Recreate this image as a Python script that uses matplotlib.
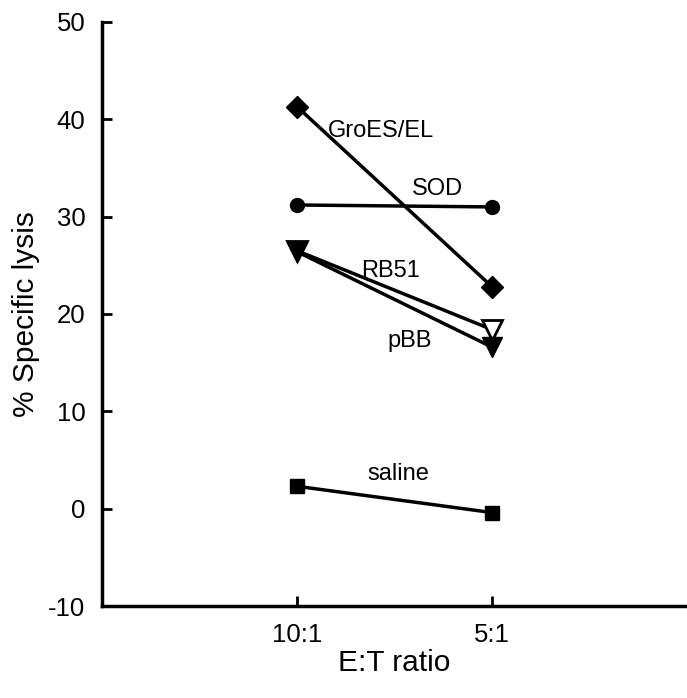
import matplotlib
matplotlib.use('Agg')
import matplotlib.pyplot as plt

plt.rcParams['font.family'] = ['Liberation Sans', 'DejaVu Sans']
plt.rcParams['axes.unicode_minus'] = False

ratios = ['10:1', '5:1']
x_pos = [1, 2]

groes = [41.3, 22.8]
sod = [31.2, 31.0]
rb51 = [26.5, 18.4]
pbb = [26.4, 16.6]
saline = [2.3, -0.4]

labels = ['GroES/EL', 'SOD', 'RB51', 'pBB', 'saline']
label_x = [1.43, 1.72, 1.48, 1.58, 1.52]
label_y = [38.8, 32.8, 24.4, 17.2, 3.6]

fig = plt.figure(figsize=(6.87, 6.98), dpi=100)
ax = fig.add_axes([0.1485, 0.1318, 0.8515, 0.8367])

lw = 2.5
ax.plot(x_pos, groes, color='black', lw=lw, marker='D', ms=11, mfc='black', mec='black')
ax.plot(x_pos, sod, color='black', lw=lw, marker='o', ms=10, mfc='black', mec='black')
ax.plot(x_pos, rb51, color='black', lw=lw, marker='v', ms=14, mfc='white', mec='black', mew=2)
ax.plot(x_pos, pbb, color='black', lw=lw, marker='v', ms=14, mfc='black', mec='black')
ax.plot(x_pos, saline, color='black', lw=lw, marker='s', ms=10, mfc='black', mec='black')

for t, lx, ly in zip(labels, label_x, label_y):
    ax.text(lx, ly, t, ha='center', va='center', fontsize=17)

ax.set_xlim(0, 3)
ax.set_ylim(-10, 50)
ax.set_yticks(range(-10, 51, 10))
ax.set_xticks(x_pos)
ax.set_xticklabels(ratios)

ax.spines['top'].set_visible(False)
ax.spines['right'].set_visible(False)
ax.spines['left'].set_linewidth(2.5)
ax.spines['bottom'].set_linewidth(2.5)
ax.tick_params(direction='in', length=7, width=2, labelsize=18.5, pad=12)

ax.set_xlabel('E:T ratio', fontsize=21.5, labelpad=2)
ax.set_ylabel('% Specific lysis', fontsize=21.5, labelpad=6)

fig.savefig('out.png', dpi=100)
